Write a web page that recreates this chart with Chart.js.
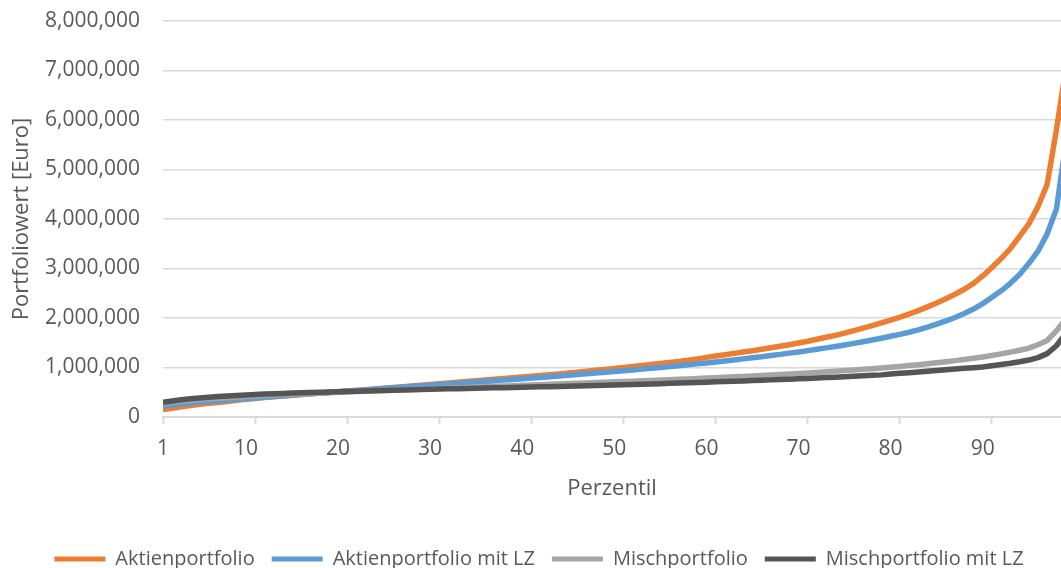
<!DOCTYPE html>
<html lang="de">
<head>
<meta charset="utf-8">
<title>Portfoliowert nach Perzentil</title>
<script src="https://cdn.jsdelivr.net/npm/chart.js@4.4.1/dist/chart.umd.min.js"></script>
<style>
  html, body { margin: 0; padding: 0; background: #ffffff; overflow: hidden; }
  #wrap { position: relative; width: 1061px; height: 568px; }
</style>
</head>
<body>
<div id="wrap"><canvas id="chart"></canvas></div>
<script>
// Percentiles 1..99 of the simulated final portfolio value
const perzentile = [
  1, 2, 3, 4, 5, 6, 7, 8, 9, 10, 11, 12, 13, 14, 15, 16, 17, 18, 19, 20,
  21, 22, 23, 24, 25, 26, 27, 28, 29, 30, 31, 32, 33, 34, 35, 36, 37, 38, 39, 40,
  41, 42, 43, 44, 45, 46, 47, 48, 49, 50, 51, 52, 53, 54, 55, 56, 57, 58, 59, 60,
  61, 62, 63, 64, 65, 66, 67, 68, 69, 70, 71, 72, 73, 74, 75, 76, 77, 78, 79, 80,
  81, 82, 83, 84, 85, 86, 87, 88, 89, 90, 91, 92, 93, 94, 95, 96, 97, 98, 99
];

// Percentiles that carry an axis label, and those that carry a tick mark
const beschriftetePerzentile = [1, 10, 20, 30, 40, 50, 60, 70, 80, 90];
const teilstrichPerzentile = [1, 11, 21, 31, 41, 51, 61, 71, 81, 91];

// Visible percentile window of the x axis
const xMin = 1;
const xMax = 98.5;

// Y axis ticks in Euro
const yTicks = [0, 1000000, 2000000, 3000000, 4000000, 5000000, 6000000, 7000000, 8000000];

// Portfolio values in Euro per percentile
const aktienportfolio = [
  150000, 178000, 205000, 232000, 255000, 275000, 295000, 315000, 338000, 358000,
  375000, 392000, 408000, 424000, 440000, 455000, 470000, 484000, 497000, 510000,
  524000, 538000, 552000, 566000, 580000, 595000, 610000, 626000, 642000, 658000,
  673000, 688000, 703000, 718000, 733000, 748000, 762000, 777000, 792000, 808000,
  823000, 839000, 855000, 871000, 887000, 905000, 924000, 943000, 962000, 982000,
  1001000, 1020000, 1040000, 1060000, 1081000, 1102000, 1124000, 1147000, 1170000, 1205000,
  1232000, 1258000, 1285000, 1312000, 1340000, 1368000, 1398000, 1428000, 1460000, 1495000,
  1530000, 1570000, 1610000, 1650000, 1695000, 1745000, 1795000, 1845000, 1900000, 1955000,
  2015000, 2080000, 2150000, 2225000, 2305000, 2390000, 2480000, 2580000, 2700000, 2850000,
  3020000, 3200000, 3400000, 3650000, 3900000, 4250000, 4700000, 5800000, 7000000
];

const aktienportfolioMitLZ = [
  215000, 240000, 262000, 282000, 300000, 315000, 330000, 344000, 357000, 370000,
  384000, 398000, 412000, 426000, 440000, 454000, 468000, 482000, 496000, 510000,
  524000, 537000, 550000, 563000, 576000, 589000, 602000, 615000, 628000, 641000,
  654000, 667000, 680000, 693000, 706000, 719000, 732000, 745000, 758000, 772000,
  786000, 800000, 814000, 828000, 843000, 858000, 873000, 888000, 903000, 919000,
  935000, 951000, 967000, 984000, 1001000, 1018000, 1036000, 1054000, 1073000, 1092000,
  1112000, 1132000, 1153000, 1174000, 1196000, 1218000, 1241000, 1265000, 1290000, 1315000,
  1341000, 1368000, 1396000, 1425000, 1455000, 1487000, 1520000, 1555000, 1592000, 1630000,
  1670000, 1712000, 1760000, 1815000, 1875000, 1940000, 2010000, 2090000, 2180000, 2290000,
  2420000, 2550000, 2700000, 2880000, 3100000, 3350000, 3700000, 4200000, 5500000
];

const mischportfolio = [
  270000, 295000, 318000, 338000, 355000, 370000, 383000, 395000, 406000, 416000,
  425000, 434000, 442000, 450000, 457000, 464000, 471000, 479000, 488000, 500000,
  507000, 514000, 521000, 528000, 535000, 542000, 549000, 556000, 563000, 570000,
  577000, 584000, 591000, 598000, 605000, 612000, 619000, 626000, 633000, 640000,
  647000, 654000, 661000, 668000, 675000, 682000, 689000, 696000, 703000, 710000,
  717000, 724000, 731000, 738000, 746000, 754000, 762000, 770000, 778000, 786000,
  794000, 802000, 811000, 820000, 829000, 838000, 848000, 858000, 868000, 879000,
  890000, 901000, 913000, 925000, 937000, 950000, 963000, 977000, 991000, 1006000,
  1022000, 1039000, 1057000, 1076000, 1096000, 1117000, 1139000, 1162000, 1187000, 1214000,
  1243000, 1275000, 1310000, 1348000, 1390000, 1460000, 1545000, 1740000, 1980000
];

const mischportfolioMitLZ = [
  300000, 325000, 348000, 368000, 385000, 400000, 413000, 425000, 436000, 446000,
  455000, 463000, 470000, 477000, 483000, 489000, 495000, 500000, 505000, 510000,
  515000, 520000, 525000, 530000, 535000, 540000, 545000, 550000, 555000, 560000,
  565000, 569000, 573000, 577000, 581000, 585000, 589000, 593000, 597000, 601000,
  605000, 609000, 613000, 618000, 623000, 628000, 633000, 638000, 643000, 648000,
  653000, 658000, 663000, 668000, 674000, 680000, 686000, 692000, 698000, 704000,
  710000, 716000, 722000, 729000, 736000, 743000, 750000, 757000, 764000, 772000,
  780000, 788000, 796000, 804000, 813000, 822000, 831000, 841000, 851000, 870000,
  882000, 895000, 910000, 925000, 940000, 955000, 970000, 985000, 997000, 1010000,
  1035000, 1060000, 1085000, 1115000, 1150000, 1200000, 1280000, 1440000, 1680000
];

const serien = [
  { label: 'Aktienportfolio', data: aktienportfolio, color: '#ED7D31', order: 4 },
  { label: 'Aktienportfolio mit LZ', data: aktienportfolioMitLZ, color: '#5B9BD5', order: 3 },
  { label: 'Mischportfolio', data: mischportfolio, color: '#A5A5A5', order: 2 },
  { label: 'Mischportfolio mit LZ', data: mischportfolioMitLZ, color: '#555555', order: 1 }
];

const textFarbe = '#595959';
const gitterFarbe = '#D9D9D9';
const schrift = "'Open Sans', 'DejaVu Sans', sans-serif";

const formatEuro = (v) => v.toLocaleString('en-US');

// x ticks: labelled percentiles plus the tick-mark percentiles
const xTickWerte = Array.from(new Set([...beschriftetePerzentile, ...teilstrichPerzentile])).sort((a, b) => a - b);

new Chart(document.getElementById('chart'), {
  type: 'line',
  data: {
    datasets: serien.map((s) => ({
      label: s.label,
      data: perzentile.map((p, i) => ({ x: p, y: s.data[i] })),
      borderColor: s.color,
      backgroundColor: s.color,
      borderWidth: 5.5,
      pointRadius: 0,
      pointHoverRadius: 0,
      tension: 0,
      fill: false,
      borderJoinStyle: 'round',
      borderCapStyle: 'butt',
      order: s.order
    }))
  },
  options: {
    responsive: true,
    maintainAspectRatio: false,
    animation: false,
    layout: { padding: { top: 21, right: 0, bottom: -11, left: 17 } },
    plugins: {
      tooltip: { enabled: false },
      legend: {
        position: 'bottom',
        align: 'center',
        labels: {
          color: textFarbe,
          font: { family: schrift, size: 20 },
          boxWidth: 51,
          boxHeight: 5,
          padding: 17,
          generateLabels: (chart) => {
            const items = Chart.defaults.plugins.legend.labels.generateLabels(chart);
            return items
              .sort((a, b) => a.datasetIndex - b.datasetIndex)
              .map((it) => Object.assign(it, {
                fillStyle: it.strokeStyle,
                lineWidth: 0
              }));
          }
        }
      }
    },
    scales: {
      x: {
        type: 'linear',
        min: xMin,
        max: xMax,
        afterFit: (scale) => { scale.height = 115; },
        afterBuildTicks: (scale) => {
          scale.ticks = xTickWerte.map((v) => ({ value: v }));
        },
        grid: {
          drawOnChartArea: false,
          drawTicks: true,
          tickLength: 7,
          tickWidth: 2,
          tickColor: (ctx) => {
            const v = ctx.tick ? ctx.tick.value : null;
            return teilstrichPerzentile.includes(v) ? gitterFarbe : 'rgba(0,0,0,0)';
          }
        },
        border: { display: true, color: gitterFarbe, width: 2 },
        ticks: {
          autoSkip: false,
          maxRotation: 0,
          minRotation: 0,
          padding: 12,
          color: textFarbe,
          font: { family: schrift, size: 21 },
          callback: (value) => beschriftetePerzentile.includes(value) ? String(value) : ''
        },
        title: {
          display: true,
          text: 'Perzentil',
          color: textFarbe,
          font: { family: schrift, size: 22 },
          padding: { top: 0, bottom: 30 }
        }
      },
      y: {
        min: yTicks[0],
        max: yTicks[yTicks.length - 1],
        afterFit: (scale) => {
          scale.width = 146;
          scale.paddingTop = 0;
          scale.paddingBottom = 0;
        },
        afterBuildTicks: (scale) => {
          scale.ticks = yTicks.map((v) => ({ value: v }));
        },
        grid: {
          color: gitterFarbe,
          lineWidth: 1.5,
          drawTicks: false
        },
        border: { display: false },
        ticks: {
          padding: 23,
          color: textFarbe,
          font: { family: schrift, size: 21 },
          callback: (v) => formatEuro(v)
        },
        title: {
          display: true,
          text: 'Portfoliowert [Euro]',
          color: textFarbe,
          font: { family: schrift, size: 22 },
          padding: { top: -8, bottom: 0 }
        }
      }
    }
  }
});
</script>
</body>
</html>
